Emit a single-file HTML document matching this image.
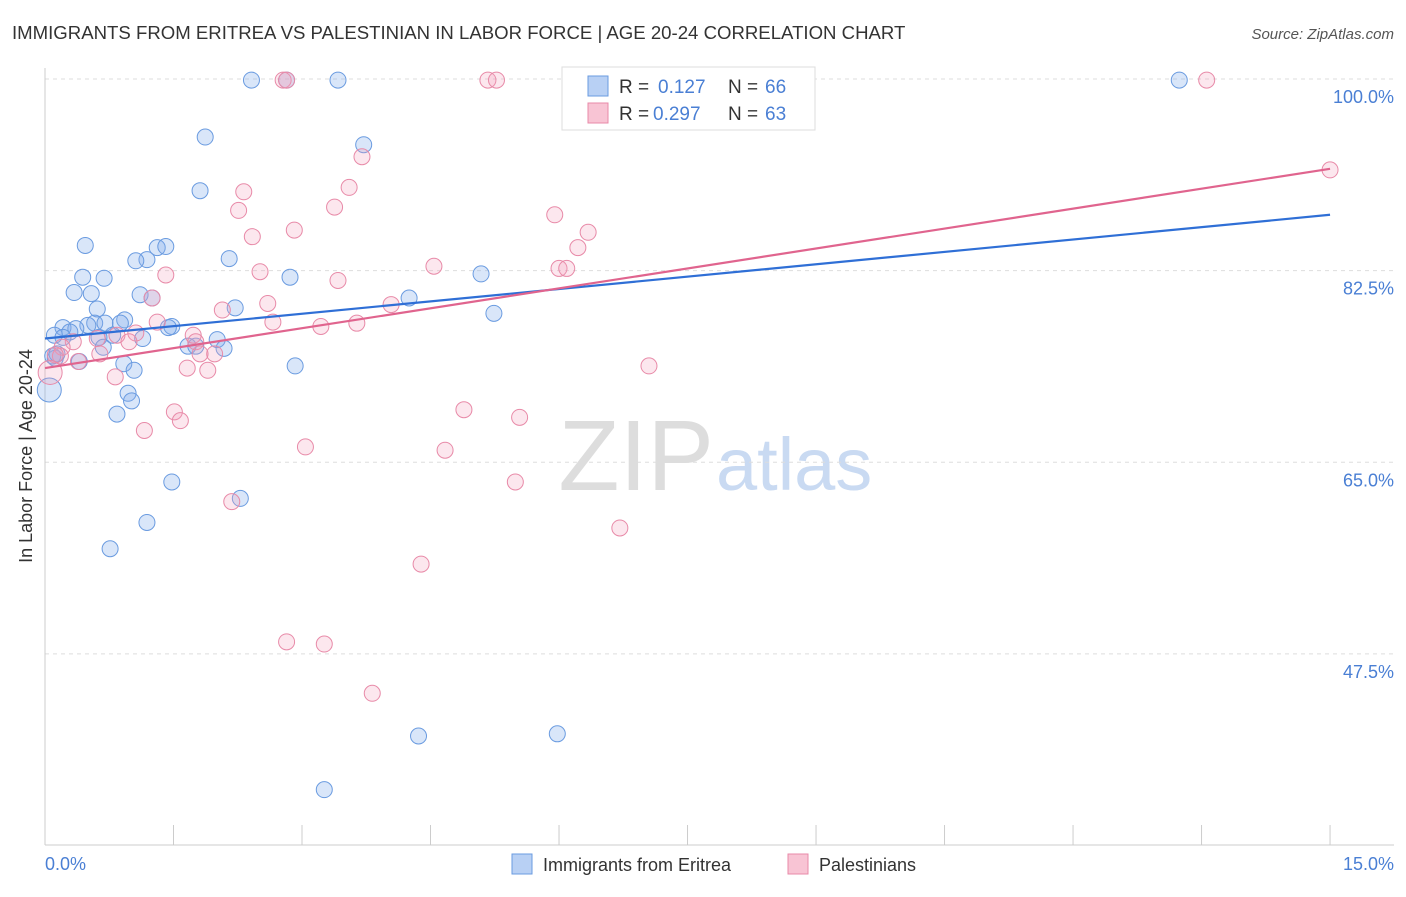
<!DOCTYPE html>
<html><head><meta charset="utf-8"><style>
body{margin:0;background:#fff;font-family:"Liberation Sans",sans-serif}
svg text{font-family:"Liberation Sans",sans-serif}
</style></head><body>
<svg width="1406" height="892" viewBox="0 0 1406 892">
<text x="12" y="39" font-size="18.6" fill="#333">IMMIGRANTS FROM ERITREA VS PALESTINIAN IN LABOR FORCE | AGE 20-24 CORRELATION CHART</text>
<text x="1394" y="39" font-size="15" fill="#555" font-style="italic" text-anchor="end">Source: ZipAtlas.com</text>
<text x="714" y="490" font-size="100" fill="#ddd" text-anchor="end" font-family="Liberation Serif">ZIP</text>
<text x="716" y="490" font-size="74" fill="#c9daf2">atlas</text>
<g id="grid"></g>
<line x1="45" y1="68" x2="45" y2="845" stroke="#ccc"/>
<line x1="45" y1="845" x2="1394" y2="845" stroke="#ccc"/>
<text x="32" y="456" font-size="18" fill="#333" text-anchor="middle" transform="rotate(-90 32 456)">In Labor Force | Age 20-24</text>
<text x="45" y="870" font-size="18" fill="#4a7fd4">0.0%</text>
<text x="1394" y="870" font-size="18" fill="#4a7fd4" text-anchor="end">15.0%</text>
<g id="points"></g>
<g id="lines"></g>
<g>
<rect x="562" y="67" width="253" height="63" fill="#fff" stroke="#ddd"/>
<rect x="588" y="76" width="20" height="20" fill="#b8d0f4" stroke="#6a9be0"/>
<text x="619" y="93" font-size="19" fill="#333">R = </text><text x="658" y="93" font-size="19" fill="#4a7fd4">0.127</text>
<text x="728" y="93" font-size="19" fill="#333">N = </text><text x="765" y="93" font-size="19" fill="#4a7fd4">66</text>
<rect x="588" y="103" width="20" height="20" fill="#f8c4d4" stroke="#e88aa8"/>
<text x="619" y="120" font-size="19" fill="#333">R = </text><text x="653" y="120" font-size="19" fill="#4a7fd4">0.297</text>
<text x="728" y="120" font-size="19" fill="#333">N = </text><text x="765" y="120" font-size="19" fill="#4a7fd4">63</text>
</g>
<g>
<rect x="512" y="854" width="20" height="20" fill="#b8d0f4" stroke="#6a9be0"/>
<text x="543" y="871" font-size="18" fill="#333">Immigrants from Eritrea</text>
<rect x="788" y="854" width="20" height="20" fill="#f8c4d4" stroke="#e88aa8"/>
<text x="819" y="871" font-size="18" fill="#333">Palestinians</text>
</g>
</svg>
<script>
const yTicks=[100,82.5,65,47.5];
const xTicks=[1.5,3,4.5,6,7.5,9,10.5,12,13.5,15];
const blueX=[2.41,2.82,3.42,13.24,6.77,1.87,3.72,1.81,0.47,1.31,1.41,1.19,1.06,2.15,0.44,0.69,2.86,5.09,0.34,0.54,1.11,1.25,0.61,2.22,4.25,5.24,0.93,0.58,0.88,0.70,0.50,0.21,0.36,1.48,1.44,0.11,0.29,0.21,0.79,0.63,1.14,1.67,2.01,2.09,1.76,0.68,0.12,0.40,0.92,2.92,1.04,0.05,0.97,1.01,0.84,1.48,2.28,1.19,0.76,4.36,5.98,3.26,0.09,0.14];
const blueY=[99.9,99.9,99.9,99.9,99.9,94.7,94.0,89.8,84.8,84.6,84.7,83.5,83.4,83.6,81.9,81.8,81.9,82.2,80.5,80.4,80.3,80.0,79.0,79.1,80.0,78.6,78.0,77.7,77.7,77.7,77.5,77.3,77.2,77.4,77.3,76.6,76.9,76.4,76.6,76.4,76.3,75.6,76.2,75.4,75.6,75.5,74.5,74.2,74.0,73.8,73.4,71.6,71.3,70.6,69.4,63.2,61.7,59.5,57.1,40.0,40.2,35.1,74.7,74.9];
const pinkX=[2.78,2.82,5.17,5.27,7.86,13.56,3.70,3.55,2.32,2.26,3.38,2.91,2.42,5.95,6.34,6.22,4.54,6.00,6.09,2.51,1.41,3.42,1.25,2.60,2.07,4.04,1.31,2.66,3.64,3.22,1.73,1.06,0.33,0.84,0.98,0.61,1.76,0.20,0.64,1.98,1.81,0.18,0.39,1.66,1.90,0.82,7.05,4.89,1.51,1.58,5.54,1.16,3.04,4.67,5.49,2.18,6.71,4.39,2.82,3.26,3.82,15.0,0.12,0.06];
const pinkY=[99.9,99.9,99.9,99.9,99.9,99.9,92.9,90.1,89.7,88.0,88.3,86.2,85.6,87.6,86.0,84.6,82.9,82.7,82.7,82.4,82.1,81.6,80.0,79.5,78.9,79.4,77.8,77.8,77.7,77.4,76.6,76.8,76.0,76.6,76.0,76.3,76.0,75.5,74.9,74.9,74.9,74.7,74.2,73.6,73.4,72.8,73.8,69.8,69.6,68.8,69.1,67.9,66.4,66.1,63.2,61.4,59.0,55.7,48.6,48.4,43.9,91.7,74.8,73.2];
const blueLine=[[0,76.3],[15,87.6]];
const pinkLine=[[0,73.6],[15,91.8]];
const X=v=>45+v*85.67, Y=v=>79+(100-v)*10.95;
const NS='http://www.w3.org/2000/svg';
const grid=document.getElementById('grid'),pts=document.getElementById('points'),lines=document.getElementById('lines');
yTicks.forEach(t=>{
 const l=document.createElementNS(NS,'line');
 l.setAttribute('x1',45);l.setAttribute('x2',1394);l.setAttribute('y1',Y(t));l.setAttribute('y2',Y(t));
 l.setAttribute('stroke','#ddd');l.setAttribute('stroke-dasharray','4,4');
 
 
 grid.appendChild(l);
 const tx=document.createElementNS(NS,'text');
 tx.setAttribute('x',1394);tx.setAttribute('y',Y(t)+24);tx.setAttribute('text-anchor','end');
 tx.setAttribute('font-size','18');tx.setAttribute('fill','#4a7fd4');tx.textContent=t.toFixed(1)+'%';
 
 
 grid.appendChild(tx);
});
xTicks.forEach(t=>{
 const l=document.createElementNS(NS,'line');
 l.setAttribute('x1',X(t));l.setAttribute('x2',X(t));l.setAttribute('y1',825);l.setAttribute('y2',845);
 l.setAttribute('stroke','#ccc');
 
 
 grid.appendChild(l);
});
function dots(xs,ys,fill,stroke,name){
 xs.forEach((x,i)=>{
  const c=document.createElementNS(NS,'circle');
  c.setAttribute('cx',X(x));c.setAttribute('cy',Y(ys[i]));c.setAttribute('r',(x<0.07&&ys[i]<74)?12:8);
  c.setAttribute('fill',fill);c.setAttribute('stroke',stroke);c.setAttribute('stroke-width','1');
  
  
  pts.appendChild(c);
 });
}
dots(blueX,blueY,'rgba(130,172,235,0.3)','#6a9be0','eritrea-point');
dots(pinkX,pinkY,'rgba(242,160,188,0.25)','#e88aa8','palestinian-point');
function line(d,col,name){
 const l=document.createElementNS(NS,'line');
 l.setAttribute('x1',X(d[0][0]));l.setAttribute('y1',Y(d[0][1]));l.setAttribute('x2',X(d[1][0]));l.setAttribute('y2',Y(d[1][1]));
 l.setAttribute('stroke',col);l.setAttribute('stroke-width','2.2');
 
 
 lines.appendChild(l);
}
line(blueLine,'#2f6fd6','eritrea-trendline');
line(pinkLine,'#e0648e','palestinian-trendline');
</script>
</body></html>
